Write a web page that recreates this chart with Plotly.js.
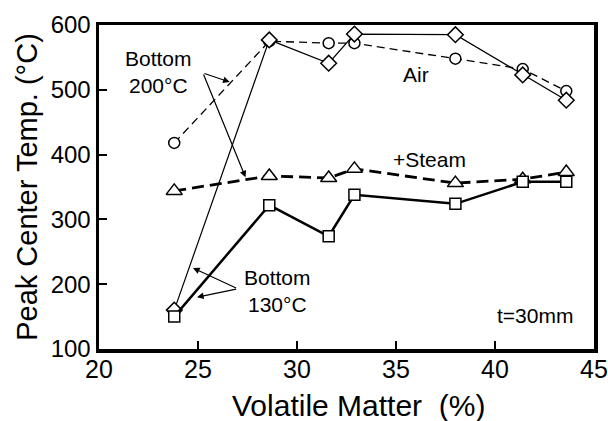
<!DOCTYPE html>
<html><head><meta charset="utf-8">
<script src="https://cdn.plot.ly/plotly-3.0.1.min.js"></script>
<style>html,body{margin:0;padding:0;background:#fff;}#chart{width:608px;height:421px;}</style>
</head><body><div id="chart"></div>
<script>
const volatile = [23.8, 28.6, 31.6, 32.9, 38.0, 41.4, 43.6];
const airBottom200 = [418, 575, 572, 572, 548, 532, 498];
const airBottom130 = [160, 577, 541, 586, 585, 523, 484];
const steamBottom200 = [344, 367, 364, 378, 356, 362, 373];
const steamBottom130 = [150, 322, 274, 338, 324, 358, 358];
const xTicks = [20, 25, 30, 35, 40, 45];
const yTicks = [100, 200, 300, 400, 500, 600];

const font = "Liberation Sans, Arial, Helvetica, sans-serif";
function tr(y, sym, dash, lw, size) {
  return {x: volatile, y: y, mode: 'lines+markers', type: 'scatter',
    line: {color: '#000', width: lw, dash: dash},
    marker: {symbol: sym, size: size, color: '#fff', line: {color: '#000', width: 1.5}},
    showlegend: false, hoverinfo: 'skip'};
}
const data = [
  tr(airBottom200, 'circle', '8px,5px', 1.3, 11),
  tr(airBottom130, 'diamond', 'solid', 1.2, 12),
  tr(steamBottom200, 'triangle-up', '12px,6px', 2.8, 14),
  tr(steamBottom130, 'square', 'solid', 2.5, 11)
];

function arrow(hx, hy, tx, ty) {
  return {x: hx, y: hy, ax: tx, ay: ty, xref: 'x', yref: 'y', axref: 'x', ayref: 'y',
    text: '', showarrow: true, arrowhead: 2, arrowsize: 1.1, arrowwidth: 1.2, arrowcolor: '#000'};
}
function label(x, y, text) {
  return {x: x, y: y, xref: 'x', yref: 'y', text: text, showarrow: false,
    font: {family: font, size: 21, color: '#000'}};
}
const layout = {
  width: 608, height: 421,
  margin: {l: 99, r: 14, t: 25, b: 72},
  paper_bgcolor: '#fff', plot_bgcolor: '#fff',
  font: {family: font, color: '#000'},
  xaxis: {range: [20, 45], tickvals: xTicks, ticktext: xTicks.map(String),
    ticks: 'inside', ticklen: 8, tickwidth: 2, tickcolor: '#000',
    showline: true, linewidth: 3.5, linecolor: '#000', mirror: true,
    showgrid: false, zeroline: false, ticklabelstandoff: -5,
    tickfont: {size: 25, family: font}},
  yaxis: {range: [100, 600], tickvals: yTicks, ticktext: yTicks.map(String),
    ticks: 'inside', ticklen: 8, tickwidth: 2, tickcolor: '#000',
    showline: true, linewidth: 3.5, linecolor: '#000', mirror: true,
    showgrid: false, zeroline: false,
    tickfont: {size: 24, family: font},
    title: {text: 'Peak Center Temp. (°C)', font: {size: 29, family: font}, standoff: 5}},
  annotations: [
    {x: 0.525, y: -0.173, xref: 'paper', yref: 'paper', xanchor: 'center', yanchor: 'middle',
     text: 'Volatile Matter  (%)', showarrow: false, font: {family: font, size: 30, color: '#000'}},
    label(23.0, 527, 'Bottom<br>200°C'),
    arrow(26.6, 512, 25.25, 526),
    arrow(27.4, 365, 25.25, 526),
    label(29.0, 190, 'Bottom<br>130°C'),
    arrow(24.75, 225, 27.0, 193),
    arrow(24.95, 180, 27.0, 193),
    label(36.0, 523, 'Air'),
    label(36.7, 392, '+Steam'),
    label(42.0, 151, 't=30mm')
  ]
};
Plotly.newPlot('chart', data, layout, {staticPlot: true, displayModeBar: false});
</script></body></html>
